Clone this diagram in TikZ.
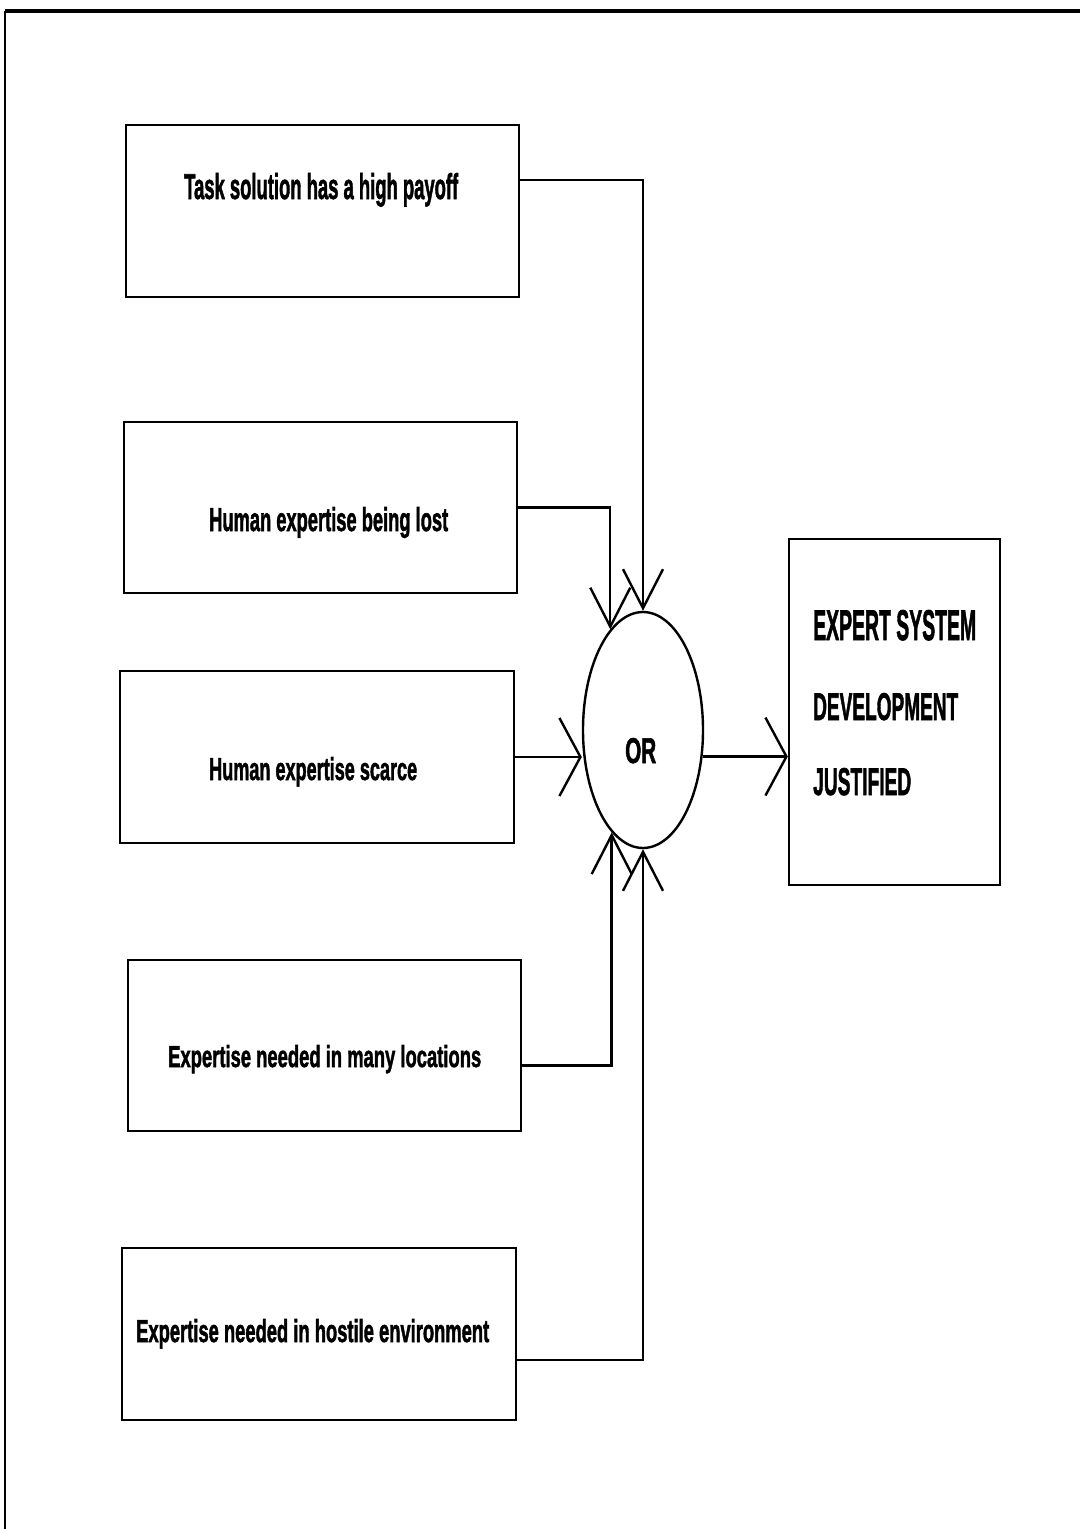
\documentclass[tikz,border=0pt]{standalone}
\usepackage{fontspec}
\setmainfont{Liberation Sans}
\newfontfamily\heavyfont[BoldFeatures={FakeBold=2}]{Liberation Sans}
\usetikzlibrary{arrows.meta,shapes.geometric}
\newcommand\fittxt[3]{\resizebox{#1}{#2}{\heavyfont\bfseries #3}}
\begin{document}
\begin{tikzpicture}[x=1pt,y=-1pt,
  line width=2.4pt,
  boxnode/.style={draw,rectangle,inner sep=0pt,minimum width=393pt,minimum height=172pt},
  txt/.style={inner sep=0pt,anchor=base west},
  varr/.style={-{Straight Barb[length=39pt,width=40pt]}},
  harr/.style={-{Straight Barb[length=21pt,width=78pt]}}]
\useasboundingbox (0,0) rectangle (1080,1529);
% frame
\draw[line width=3.5pt] (5,11) -- (1080,11);
\draw[line width=2.6pt] (5,11) -- (5,1529);
% boxes
\node[boxnode] (b1) at (322.5,211) {};
\node[boxnode,minimum height=171pt] (b2) at (320.5,507.5) {};
\node[boxnode,minimum width=394pt] (b3) at (317,757) {};
\node[boxnode,minimum height=171pt] (b4) at (324.5,1045.5) {};
\node[boxnode,minimum width=394pt] (b5) at (319,1334) {};
\node[draw,rectangle,inner sep=0pt,minimum width=211pt,minimum height=346pt] (res) at (894.5,712) {};
\node[draw,ellipse,inner sep=0pt,minimum width=120pt,minimum height=236pt] (ell) at (643,730) {};
% texts
\node[txt] (t1) at (183,199) {\fittxt{274pt}{26pt}{Task solution has a high payoff}};
\node[txt] (t2) at (208,531) {\fittxt{239pt}{24pt}{Human expertise being lost}};
\node[txt] (t3) at (208,780) {\fittxt{208pt}{23pt}{Human expertise scarce}};
\node[txt] (t4) at (167,1067) {\fittxt{313pt}{22pt}{Expertise needed in many locations}};
\node[txt] (t5) at (135,1342) {\fittxt{353pt}{23pt}{Expertise needed in hostile environment}};
\node[txt] (r1) at (812,640) {\fittxt{163pt}{30pt}{EXPERT SYSTEM}};
\node[txt] (r2) at (812,720) {\fittxt{145pt}{27pt}{DEVELOPMENT}};
\node[txt] (r3) at (812,795) {\fittxt{98pt}{27pt}{JUSTIFIED}};
\node[txt] (or) at (624,763) {\fittxt{31pt}{25pt}{OR}};
% connectors
\draw[varr] ([yshift=31pt]b1.east) -| (ell.north);
\draw[varr] (b2.east) -| (ell.108);
\draw[harr] (b3.east) -- (b3.east -| ell.west);
\draw[varr] ([yshift=-20pt]b4.east) -| (ell.-107);
\draw[varr] ([yshift=-26pt]b5.east) -| (ell.south);
\draw[harr] (ell.-24) -- (ell.-24 -| res.west);
\end{tikzpicture}
\end{document}
